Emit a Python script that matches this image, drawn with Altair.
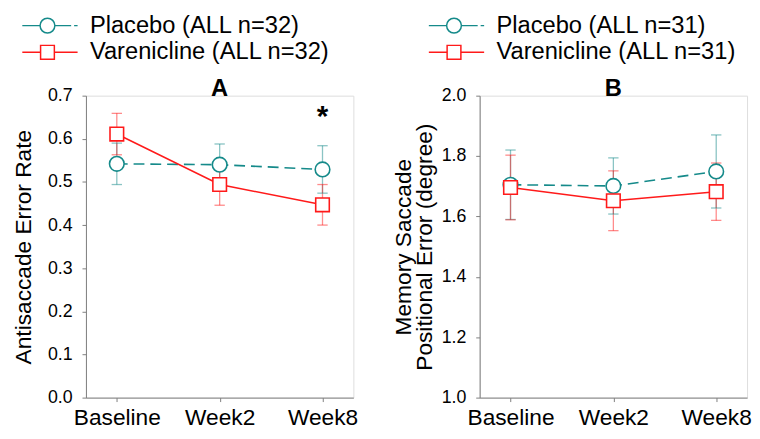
import altair as alt
import pandas as pd

weeks = ["Baseline", "Week2", "Week8"]

labels_a = ["Placebo (ALL n=32)", "Varenicline (ALL n=32)"]
a_placebo_mean = [0.542, 0.540, 0.529]
a_placebo_se = [0.048, 0.048, 0.055]
a_var_mean = [0.611, 0.494, 0.447]
a_var_se = [0.048, 0.048, 0.047]

labels_b = ["Placebo (ALL n=31)", "Varenicline (ALL n=31)"]
b_placebo_mean = [1.705, 1.701, 1.749]
b_placebo_se = [0.115, 0.093, 0.121]
b_var_mean = [1.696, 1.652, 1.682]
b_var_se = [0.107, 0.099, 0.095]

star_week = ["Week8"]
star_y = [0.659]
star_text = ["*"]

TEAL = "#158a8a"
RED = "#ff1a1a"
FONT = "Liberation Sans"

# legend glyphs (units of 7.5 px): line + marker + line
PATH_PLACEBO = ("M-3.4,0H-1M1,0H3.2M3.6,0H4.07"
                "M-1,0A1,1 0 1,0 1,0A1,1 0 1,0 -1,0Z")
PATH_VAR = "M-3.4,0H-0.93M0.93,0H4.07M-0.93,-0.93H0.93V0.93H-0.93Z"
LEG_SIZE = 225


def make_df(labels, pm, ps, vm, vs):
    rows = []
    for lab, means, ses in ((labels[0], pm, ps), (labels[1], vm, vs)):
        for w, m, s in zip(weeks, means, ses):
            rows.append({"week": w, "series": lab, "mean": m,
                         "lo": m - s, "hi": m + s})
    return pd.DataFrame(rows)


def panel(df, labels, domain, ticks, ytitle, title, legend_x,
          star=None, title_pad=12):
    x = alt.X("week:N", sort=weeks,
              scale=alt.Scale(type="point", padding=0.3),
              axis=alt.Axis(title=None, labelAngle=0, labelFontSize=23,
                            labelColor="black", labelFont=FONT,
                            domainColor="#7f7f7f", tickColor="#7f7f7f",
                            tickSize=4, labelPadding=5))
    yscale = alt.Scale(domain=domain, nice=False, zero=False)
    yaxis = alt.Axis(values=ticks, format=".1f", title=ytitle,
                     titleFontSize=23, titleFontWeight="normal",
                     titleFont=FONT, titleColor="black",
                     titlePadding=title_pad, titleLineHeight=21,
                     labelFontSize=18, labelColor="black", labelFont=FONT,
                     domainColor="#7f7f7f", tickColor="#7f7f7f",
                     tickSize=4, labelPadding=10, grid=False)
    legend = alt.Legend(
        title=None, orient="none", legendX=legend_x, legendY=-83,
        labelFontSize=24, labelFont=FONT, labelColor="black",
        labelLimit=500, labelOffset=31, rowPadding=3,
        symbolStrokeWidth=1.5, symbolSize=LEG_SIZE, symbolFillColor="white",
        symbolOpacity=1)
    color = alt.Color("series:N",
                      scale=alt.Scale(domain=labels, range=[TEAL, RED]),
                      legend=legend)
    shape = alt.Shape("series:N",
                      scale=alt.Scale(domain=labels,
                                      range=[PATH_PLACEBO, PATH_VAR]),
                      legend=legend)
    base = alt.Chart(df)
    yq = alt.Y("mean:Q", scale=yscale, axis=yaxis)
    leg = base.transform_filter("false").mark_point(
        filled=False, fill="white", fillOpacity=1, opacity=1,
        strokeWidth=1.5, size=LEG_SIZE).encode(
        x=x, y=yq, color=color, shape=shape)
    rule = base.mark_rule(strokeWidth=1.3, opacity=0.5).encode(
        x=x, y=alt.Y("lo:Q", scale=yscale, axis=yaxis), y2="hi:Q",
        color=color)
    tlo = base.mark_point(shape="stroke", filled=False, size=110,
                          strokeWidth=1.3, opacity=0.5).encode(
        x=x, y=alt.Y("lo:Q", scale=yscale, axis=yaxis), color=color)
    thi = base.mark_point(shape="stroke", filled=False, size=110,
                          strokeWidth=1.3, opacity=0.5).encode(
        x=x, y=alt.Y("hi:Q", scale=yscale, axis=yaxis), color=color)
    line_p = base.transform_filter(alt.datum.series == labels[0]).mark_line(
        strokeWidth=1.6, color=TEAL, strokeDash=[11, 6]).encode(x=x, y=yq)
    line_v = base.transform_filter(alt.datum.series == labels[1]).mark_line(
        strokeWidth=1.6, color=RED).encode(x=x, y=yq)
    pts_c = base.transform_filter(
        alt.datum.series == labels[0]).mark_point(
        shape="circle", filled=False, fill="white", fillOpacity=1,
        opacity=1, strokeWidth=1.6, size=220).encode(
        x=x, y=yq, color=color)
    pts_s = base.transform_filter(
        alt.datum.series == labels[1]).mark_point(
        shape="square", filled=False, fill="white", fillOpacity=1,
        opacity=1, strokeWidth=1.6, size=190).encode(
        x=x, y=yq, color=color)
    layers = [leg, rule, tlo, thi, line_p, line_v, pts_c, pts_s]
    if star is not None:
        sdf = pd.DataFrame({"week": star[0], "y": star[1], "t": star[2]})
        layers.append(alt.Chart(sdf).mark_text(
            fontSize=30, fontWeight="bold", font=FONT, baseline="middle",
            dy=4, color="black").encode(
            x=x, y=alt.Y("y:Q", scale=yscale, axis=yaxis), text="t:N"))
    return alt.layer(*layers).properties(
        width=271, height=306,
        title=alt.TitleParams(title, fontSize=24, fontWeight="bold",
                              font=FONT, color="black", offset=-88,
                              anchor="middle"))


df_a = make_df(labels_a, a_placebo_mean, a_placebo_se, a_var_mean, a_var_se)
df_b = make_df(labels_b, b_placebo_mean, b_placebo_se, b_var_mean, b_var_se)

pa = panel(df_a, labels_a, [0, 0.7], [0, 0.1, 0.2, 0.3, 0.4, 0.5, 0.6, 0.7],
           "Antisaccade Error Rate", "A", legend_x=-51,
           star=(star_week, star_y, star_text), title_pad=12)
pb = panel(df_b, labels_b, [1.0, 2.0], [1.0, 1.2, 1.4, 1.6, 1.8, 2.0],
           ["Memory Saccade", "Positional Error (degree)"], "B",
           legend_x=-38, title_pad=5)

chart = alt.hconcat(pa, pb, spacing=128, bounds="flush").resolve_scale(
    color="independent", shape="independent",
    x="independent", y="independent"
).resolve_legend(color="independent", shape="independent").properties(
    padding={"left": 4, "top": 2, "right": 0, "bottom": 0}
).configure_view(stroke=None).configure(font=FONT)

chart.save("out.html", embed_options={"renderer": "svg", "actions": False})
